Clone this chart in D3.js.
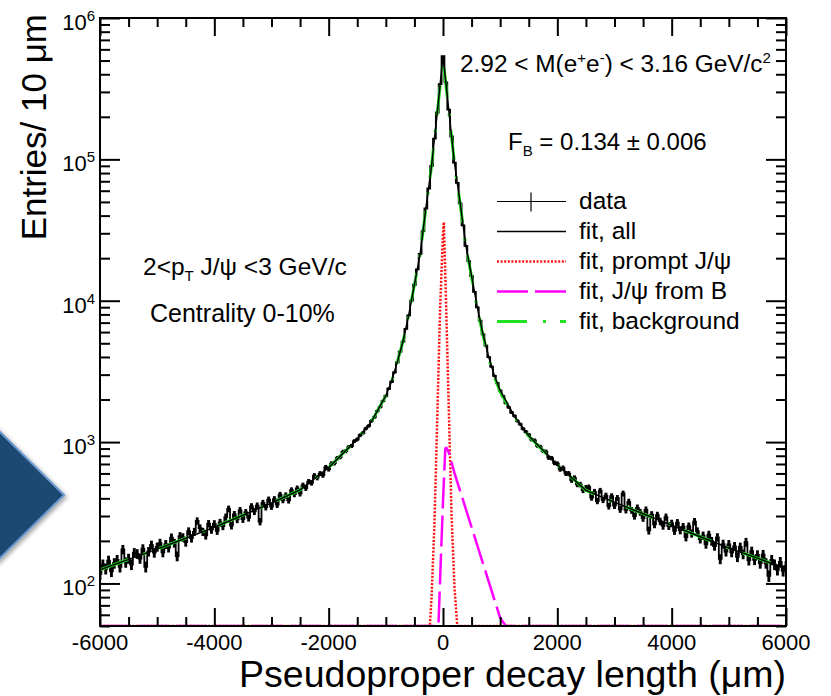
<!DOCTYPE html>
<html>
<head>
<meta charset="utf-8">
<script src="https://cdn.jsdelivr.net/npm/d3@7"></script>
<style>
body { margin: 0; background: #fff; }
text { font-family: "Liberation Sans", Arial, Helvetica, sans-serif; fill: #000; }
</style>
</head>
<body>
<svg id="chart" width="831" height="696"></svg>
<script>
// histogram entries / 10 um, read every 50 um starting at -6000
const binStart = -6000, binStep = 50;
const dataCounts = [
    117, 136, 127, 145, 122, 139, 147, 131, 174, 141, 150, 136, 165, 162, 150, 176, 131, 168, 187, 165, 181,
    193, 166, 189, 179, 211, 193, 156, 216, 212, 196, 234, 209, 232, 277, 246, 232, 219, 265, 240, 264,
    236, 270, 254, 295, 337, 257, 308, 284, 329, 285, 318, 291, 351, 323, 355, 274, 371, 347, 392, 350,
    395, 361, 424, 389, 420, 387, 457, 428, 471, 433,
    494, 473, 525, 515, 579, 560, 599, 583, 664, 644,
    705, 710, 770, 783, 853, 863, 922, 938, 1017, 1045,
    1118, 1162, 1247, 1301, 1412, 1498, 1655, 1771, 1952, 2118, 2384, 2671, 3112, 3667, 4368, 5134, 6322, 7881,
    10030, 12970, 16640, 21450, 31100, 44900, 62200, 89800, 140300, 214500, 341000, 538000, 351000, 224500,
    145300, 94800, 68200, 48850, 34120, 24420, 19060, 14950, 11540, 8970, 7225, 5781, 4817, 3986, 3413, 2938,
    2611, 2309, 2112, 1889, 1761, 1619, 1531, 1411, 1339, 1243, 1183,
    1127, 1042, 1029, 943, 927, 866, 856, 776, 770, 713, 704,
    642, 657, 600, 599, 538, 558, 502, 501, 457, 475,
    479, 405, 445, 383, 453, 390, 418, 352, 414, 355,
    402, 334, 433, 331, 378, 329, 300, 343, 319, 290, 332, 237, 307, 262, 304, 275, 256, 295, 255, 266,
    236, 269, 238, 252, 213, 254, 226, 274, 234, 206, 218, 190, 221, 199, 184, 212, 149, 190, 168, 189,
    166, 183, 154, 181, 161, 196, 146, 169, 147, 159, 139, 160, 139, 113, 147, 136, 125, 142, 123, 132
];

// fit curves
const fitX = [-6000, -5500, -5000, -4500, -4000, -3500, -3000, -2500, -2000, -1750, -1500, -1250, -1000, -900, -800,
    -700, -600, -500, -400, -300, -200, -150, -100, -50, 0, 50, 100, 150, 200, 300, 400, 500, 600, 700, 800, 900,
    1000, 1250, 1500, 1750, 2000, 2500, 3000, 3500, 4000, 4500, 5000, 5500, 6000];
const fitAll = [125, 148, 175, 209, 250, 304, 371, 459, 660, 832, 1050, 1400, 2130, 2680, 3680,
    5150, 7900, 13000, 21500, 45000, 90000, 140000, 215000, 340000, 540000, 350000, 225000, 145000, 95000, 49000, 24500, 15000, 9000, 5800, 4000, 2950,
    2320, 1520, 1110, 875, 690, 455, 375, 311, 258, 214, 178, 151, 127];
const fitBkg = [125, 148, 175, 209, 250, 304, 371, 459, 660, 832, 1050, 1400, 2128, 2676, 3676,
    5146, 7890, 12980, 21400, 44700, 89900, 139700, 213500, 331000, 503000, 340000, 222700, 144000, 94300, 48500, 24160, 14750, 8814, 5662, 3897, 2873,
    2263, 1500, 1100, 870, 688, 455, 375, 311, 258, 214, 178, 151, 127];

const promptX = [-6000, -300, -250, -230, -200, -150, -100, -50, 0, 15, 50, 100, 150, 200, 250, 300, 500, 1000, 1435, 6000];
const fitPrompt = [1, 25, 40, 50, 80, 260, 1500, 9000, 30000, 36000, 11000, 1800, 300, 95, 50, 35, 15, 6, 3, 0.1];

const fromBX = [-6000, -100, -80, -40, 0, 40, 60, 100, 200, 400, 600, 800, 1000, 1100, 1200, 1500, 2000, 6000];
const fitFromB = [0.01, 20, 50, 140, 380, 900, 910, 850, 605, 336, 186, 103, 57, 42, 31, 13, 3, 0.01];

// axes
const xMajor = [-6000, -4000, -2000, 0, 2000, 4000, 6000];
const xTickLabels = ['-6000', '-4000', '-2000', '0', '2000', '4000', '6000'];
const xMinorStep = 500;
const yMajor = [1e2, 1e3, 1e4, 1e5, 1e6];
const yTickExp = ['2', '3', '4', '5', '6'];

const legendLabels = ['data', 'fit, all', 'fit, prompt J/\u03C8', 'fit, J/\u03C8 from B', 'fit, background'];

const pLeft = 100, pRight = 786, pTop = 18, pBottom = 626;

const svg = d3.select('#chart');

// decorative arrow on the left
const defs = svg.append('defs');
const sh = defs.append('filter').attr('id', 'shadow').attr('x', '-30%').attr('y', '-30%').attr('width', '160%').attr('height', '160%');
sh.append('feDropShadow').attr('dx', 2).attr('dy', 2).attr('stdDeviation', 2).attr('flood-color', '#000').attr('flood-opacity', 0.35);
svg.append('polygon')
    .attr('points', '-4,428 64,495 -4,562')
    .attr('fill', '#1f4a71')
    .attr('stroke', '#6a98cf')
    .attr('stroke-width', 2)
    .attr('filter', 'url(#shadow)');

const x = d3.scaleLinear().domain([-6000, 6000]).range([pLeft, pRight]);
const y = d3.scaleLog().domain([50, 1e6]).range([pBottom, pTop]).clamp(true);

defs.append('clipPath').attr('id', 'plot')
    .append('rect').attr('x', pLeft).attr('y', pTop - 1).attr('width', pRight - pLeft).attr('height', pBottom - pTop + 2);

const plot = svg.append('g').attr('clip-path', 'url(#plot)');

// data: step outline + error bars
const bins = dataCounts.map((v, i) => ({ x: binStart + i * binStep, v: v }));
plot.append('path')
    .datum(bins)
    .attr('fill', 'none')
    .attr('stroke', '#000')
    .attr('stroke-width', 1.8)
    .attr('d', d3.line().x(d => x(d.x)).y(d => y(d.v)).curve(d3.curveStep));
plot.append('g').selectAll('line')
    .data(bins)
    .enter()
    .append('line')
        .attr('x1', d => x(d.x))
        .attr('x2', d => x(d.x))
        .attr('y1', d => y(d.v + Math.sqrt(d.v)))
        .attr('y2', d => y(d.v - Math.sqrt(d.v)))
        .attr('stroke', '#000')
        .attr('stroke-width', 2.9);

function curve(xs, ys) {
    return d3.line().x((d, i) => x(xs[i])).y(d => y(d))(ys);
}

plot.append('path').attr('d', curve(fitX, fitBkg))
    .attr('fill', 'none').attr('stroke', '#22e022').attr('stroke-width', 3)
    .attr('stroke-dasharray', '30 16 3 14');
plot.append('path').attr('d', curve(fitX, fitAll))
    .attr('fill', 'none').attr('stroke', '#000').attr('stroke-width', 1.5);
plot.append('path').attr('d', curve(promptX, fitPrompt))
    .attr('fill', 'none').attr('stroke', '#ff1010').attr('stroke-width', 2.5)
    .attr('stroke-dasharray', '2 1.6');
plot.append('path').attr('d', curve(fromBX, fitFromB))
    .attr('fill', 'none').attr('stroke', '#ff00ff').attr('stroke-width', 2.5)
    .attr('stroke-dasharray', '31 7');

// ticks (inside the frame, mirrored on all sides)
const xMinor = d3.range(-6000, 6001, xMinorStep).filter(v => xMajor.indexOf(v) < 0);
const yAll = y.ticks();
const yMinor = yAll.filter(v => yMajor.indexOf(v) < 0);

function tickGroup(axis, tx, ty) {
    const g = svg.append('g').attr('transform', `translate(${tx},${ty})`).call(axis);
    g.select('.domain').remove();
    g.selectAll('line').attr('stroke', '#000').attr('stroke-width', 2);
    g.selectAll('text').remove();
    return g;
}
tickGroup(d3.axisBottom(x).tickValues(xMajor).tickSize(-18), 0, pBottom);
tickGroup(d3.axisBottom(x).tickValues(xMinor).tickSize(-9), 0, pBottom);
tickGroup(d3.axisTop(x).tickValues(xMajor).tickSize(-18), 0, pTop);
tickGroup(d3.axisTop(x).tickValues(xMinor).tickSize(-9), 0, pTop);
tickGroup(d3.axisLeft(y).tickValues(yMajor).tickSize(-20), pLeft, 0);
tickGroup(d3.axisLeft(y).tickValues(yMinor).tickSize(-10), pLeft, 0);
tickGroup(d3.axisRight(y).tickValues(yMajor).tickSize(-20), pRight, 0);
tickGroup(d3.axisRight(y).tickValues(yMinor).tickSize(-10), pRight, 0);

svg.append('rect')
    .attr('x', pLeft).attr('y', pTop).attr('width', pRight - pLeft).attr('height', pBottom - pTop)
    .attr('fill', 'none').attr('stroke', '#000').attr('stroke-width', 2);

// tick labels
svg.append('g').selectAll('text')
    .data(xMajor)
    .enter()
    .append('text')
        .attr('x', d => x(d))
        .attr('y', 650)
        .attr('text-anchor', 'middle')
        .attr('font-size', 22)
        .text((d, i) => xTickLabels[i]);

yMajor.forEach((v, i) => {
    const t = svg.append('text')
        .attr('x', 95)
        .attr('y', y(v) + 12)
        .attr('text-anchor', 'end')
        .attr('font-size', 22);
    t.append('tspan').text('10');
    t.append('tspan').attr('dy', -9).attr('font-size', 15).text(yTickExp[i]);
});

// axis titles
svg.append('text')
    .attr('x', 786)
    .attr('y', 687)
    .attr('text-anchor', 'end')
    .attr('font-size', 37.5)
    .text('Pseudoproper decay length (\u03BCm)');

svg.append('text')
    .attr('transform', 'translate(46,14) rotate(-90)')
    .attr('text-anchor', 'end')
    .attr('font-size', 35)
    .text('Entries/ 10 \u03BCm');

// annotations
const mass = svg.append('text').attr('x', 460).attr('y', 72).attr('font-size', 24.4);
mass.append('tspan').text('2.92 < M(e');
mass.append('tspan').attr('dy', -9).attr('font-size', 15).text('+');
mass.append('tspan').attr('dy', 9).text('e');
mass.append('tspan').attr('dy', -9).attr('font-size', 15).text('-');
mass.append('tspan').attr('dy', 9).text(') < 3.16 GeV/c');
mass.append('tspan').attr('dy', -9).attr('font-size', 15).text('2');

const fb = svg.append('text').attr('x', 508).attr('y', 150).attr('font-size', 24);
fb.append('tspan').text('F');
fb.append('tspan').attr('dy', 6).attr('font-size', 15).text('B');
fb.append('tspan').attr('dy', -6).text(' = 0.134 \u00B1 0.006');

const pt = svg.append('text').attr('x', 143).attr('y', 275).attr('font-size', 24.5);
pt.append('tspan').text('2<p');
pt.append('tspan').attr('dy', 6).attr('font-size', 15).text('T');
pt.append('tspan').attr('dy', -6).text(' J/\u03C8 <3 GeV/c');

svg.append('text').attr('x', 150).attr('y', 322).attr('font-size', 25).text('Centrality 0-10%');

// legend
const legY0 = 201.5, legStep = 30, lx1 = 497, lx2 = 566;
const legStyles = [
    { stroke: '#000', width: 1.2, dash: null },
    { stroke: '#000', width: 1.5, dash: null },
    { stroke: '#ff1010', width: 2.5, dash: '2 1.6' },
    { stroke: '#ff00ff', width: 2.5, dash: '31 7' },
    { stroke: '#22e022', width: 3, dash: '30 16 3 14' }
];
legendLabels.forEach((lab, i) => {
    const cy = legY0 + i * legStep;
    const s = legStyles[i];
    svg.append('line')
        .attr('x1', lx1).attr('x2', lx2).attr('y1', cy).attr('y2', cy)
        .attr('stroke', s.stroke).attr('stroke-width', s.width)
        .attr('stroke-dasharray', s.dash);
    if (i == 0) {
        svg.append('line')
            .attr('x1', 531).attr('x2', 531).attr('y1', cy - 9).attr('y2', cy + 10)
            .attr('stroke', '#000').attr('stroke-width', 1.2);
    }
    svg.append('text')
        .attr('x', 579).attr('y', cy + 7)
        .attr('font-size', 24.5)
        .text(lab);
});
</script>
</body>
</html>
